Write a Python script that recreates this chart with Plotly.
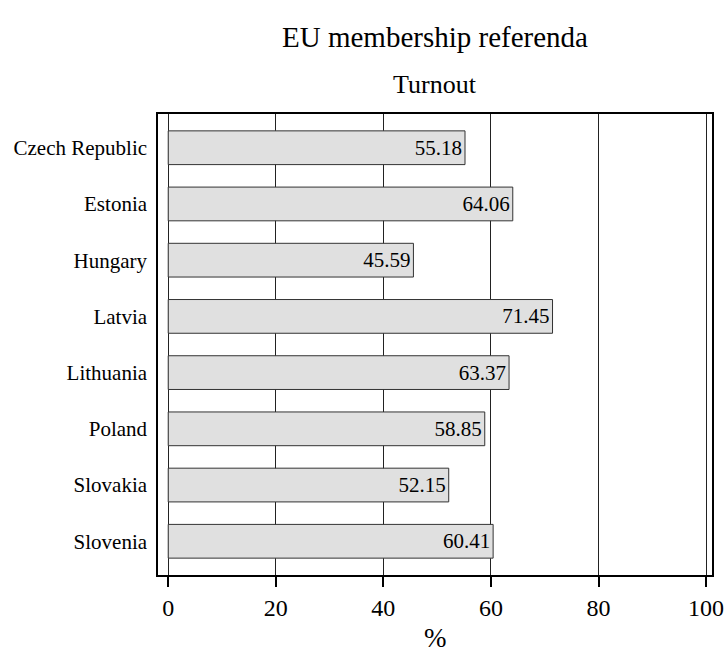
import plotly.graph_objects as go

countries = ["Czech Republic", "Estonia", "Hungary", "Latvia", "Lithuania", "Poland", "Slovakia", "Slovenia"]
turnout = [55.18, 64.06, 45.59, 71.45, 63.37, 58.85, 52.15, 60.41]
x_ticks = [0, 20, 40, 60, 80, 100]

font_family = "Liberation Serif"

fig = go.Figure(go.Bar(
    x=turnout, y=countries, orientation="h",
    marker=dict(color="#e0e0e0", line=dict(color="#333333", width=1)),
    width=0.6,
    text=[f"{v:.2f}" for v in turnout],
    textposition="inside", insidetextanchor="end",
    textfont=dict(family=font_family, size=21, color="black"),
    cliponaxis=False,
))

plot_h = 657 - 114 - 82

fig.update_layout(
    width=724, height=657,
    margin=dict(l=158, r=12, t=114, b=82, autoexpand=False),
    plot_bgcolor="white", paper_bgcolor="white",
    showlegend=False,
    font=dict(family=font_family, color="black"),
    uniformtext=dict(minsize=21, mode="show"),
    xaxis=dict(
        range=[-1.9, 101.1], tickvals=x_ticks, automargin=False,
        ticklabeloverflow="allow",
        tickfont=dict(size=24), ticks="outside", ticklen=10, tickcolor="black", tickwidth=1.5,
        showgrid=True, gridcolor="#222222", gridwidth=1,
        showline=True, linecolor="black", linewidth=1.5, mirror=True,
        zeroline=False,
    ),
    yaxis=dict(
        range=[7.6, -0.6], type="category", automargin=False,
        categoryorder="array", categoryarray=countries,
        tickfont=dict(size=21), ticks="", ticklabelstandoff=5,
        showgrid=False,
        showline=True, linecolor="black", linewidth=1.5, mirror=True,
    ),
    annotations=[
        dict(text="EU membership referenda", x=0.5, y=1 + (114 - 37) / plot_h,
             xref="paper", yref="paper", yanchor="middle",
             showarrow=False, font=dict(size=29)),
        dict(text="Turnout", x=0.5, y=1 + (114 - 84) / plot_h,
             xref="paper", yref="paper", yanchor="middle",
             showarrow=False, font=dict(size=26)),
        dict(text="%", x=0.5, y=-(638 - 575) / plot_h,
             xref="paper", yref="paper", yanchor="middle",
             showarrow=False, font=dict(size=27)),
    ],
)

fig.write_html("out.html")
